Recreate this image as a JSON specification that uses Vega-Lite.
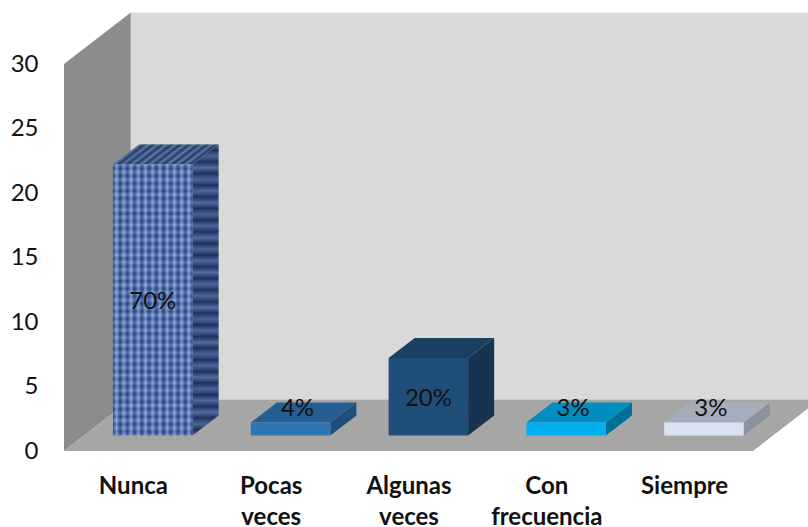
{
  "$schema": "https://vega.github.io/schema/vega-lite/v6.json",
  "autosize": "none",
  "width": 689,
  "height": 387,
  "padding": {"left": 64, "top": 64, "right": 55, "bottom": 76},
  "background": "white",
  "datasets": {
    "caras": [{"prof": 0}, {"prof": 1}],
    "barras": [
      {"categoria": "Nunca", "n": 21, "pct": "70%"},
      {"categoria": "Pocas veces", "n": 1, "pct": "4%"},
      {"categoria": "Algunas veces", "n": 6, "pct": "20%"},
      {"categoria": "Con frecuencia", "n": 1, "pct": "3%"},
      {"categoria": "Siempre", "n": 1, "pct": "3%"}
    ]
  },
  "config": {"view": {"stroke": null}},
  "encoding": {
    "x": {
      "field": "x", "type": "quantitative", "stack": null, "title": null,
      "scale": {"domain": [0, 5], "nice": false, "zero": false},
      "axis": {
        "values": [0.5, 1.5, 2.5, 3.5, 4.5], "grid": false, "domain": false, "ticks": false,
        "labelExpr": "datum.value == 0.5 ? 'Nunca' : datum.value == 1.5 ? ['Pocas', 'veces'] : datum.value == 2.5 ? ['Algunas', 'veces'] : datum.value == 3.5 ? ['Con', 'frecuencia'] : 'Siempre'",
        "labelFont": "Lato", "labelFontSize": 24, "labelFontWeight": "bold", "labelColor": "#111111",
        "labelLineHeight": 31, "labelPadding": 23, "labelBaseline": "top", "labelAngle": 0, "labelOverlap": false, "labelFlush": false
      }
    },
    "y": {
      "field": "y", "type": "quantitative", "stack": null, "title": null,
      "scale": {"domain": [0, 30], "nice": false, "zero": false},
      "axis": {
        "values": [0, 5, 10, 15, 20, 25, 30], "grid": false, "domain": false, "ticks": false,
        "labelFont": "Lato", "labelFontSize": 24, "labelColor": "#111111", "labelPadding": 26
      }
    }
  },
  "layer": [
    {
      "data": {"name": "caras"},
      "transform": [
        {"calculate": "datum.prof * 0.485", "as": "x"},
        {"calculate": "datum.prof * 4", "as": "y"},
        {"calculate": "30 + datum.prof * 4", "as": "ytecho"}
      ],
      "mark": {"type": "area", "color": "#8c8c8c"},
      "encoding": {"y2": {"field": "ytecho"}}
    },
    {
      "data": {"name": "caras"},
      "transform": [
        {"filter": "datum.prof == 1"},
        {"calculate": "0.485", "as": "x"},
        {"calculate": "5.485", "as": "xfin"},
        {"calculate": "4", "as": "y"},
        {"calculate": "34", "as": "ytecho"}
      ],
      "mark": {"type": "rect", "color": "#d9d9d9"},
      "encoding": {"x2": {"field": "xfin"}, "y2": {"field": "ytecho"}}
    },
    {
      "data": {"name": "caras"},
      "transform": [
        {"calculate": "datum.prof * 0.485", "as": "x"},
        {"calculate": "5 + datum.prof * 0.485", "as": "xfin"},
        {"calculate": "datum.prof * 4", "as": "y"}
      ],
      "mark": {"type": "area", "orient": "horizontal", "color": "#a6a6a6"},
      "encoding": {"x2": {"field": "xfin"}}
    },
    {
      "data": {"name": "barras"},
      "transform": [
        {"window": [{"op": "row_number", "as": "fila"}]},
        {"calculate": "[0.3, 0.69]", "as": "prof"},
        {"flatten": ["prof"]},
        {"calculate": "datum.fila - 1 + 0.21 + datum.prof * 0.485", "as": "x"},
        {"calculate": "datum.x + 0.577", "as": "xfin"},
        {"calculate": "datum.n + datum.prof * 4", "as": "y"},
        {"calculate": "datum.prof * 4", "as": "ybase"}
      ],
      "layer": [
        {
          "transform": [{"calculate": "datum.xfin", "as": "x"}],
          "mark": {"type": "area"},
          "encoding": {
            "y2": {"field": "ybase"},
            "color": {"field": "categoria", "type": "nominal", "legend": null,
              "scale": {"domain": ["Nunca", "Pocas veces", "Algunas veces", "Con frecuencia", "Siempre"],
                "range": ["#2b4270", "#1f4e79", "#163450", "#006f97", "#8b929d"]}}
          }
        },
        {
          "transform": [{"filter": "datum.categoria == 'Nunca'"}, {"calculate": "datum.xfin", "as": "x"}],
          "mark": {"type": "area", "color": {"gradient": "linear", "x1": 0, "y1": 0, "x2": 0, "y2": 1, "stops": [
            {"offset": 0, "color": "rgba(140,170,225,0.35)"}, {"offset": 0.02, "color": "rgba(10,25,60,0.4)"},
            {"offset": 0.04, "color": "rgba(140,170,225,0.3)"}, {"offset": 0.06, "color": "rgba(10,25,60,0.35)"},
            {"offset": 0.08, "color": "rgba(140,170,225,0.4)"}, {"offset": 0.1, "color": "rgba(10,25,60,0.4)"},
            {"offset": 0.12, "color": "rgba(140,170,225,0.3)"}, {"offset": 0.14, "color": "rgba(10,25,60,0.45)"},
            {"offset": 0.16, "color": "rgba(140,170,225,0.35)"}, {"offset": 0.18, "color": "rgba(10,25,60,0.35)"},
            {"offset": 0.2, "color": "rgba(140,170,225,0.4)"}, {"offset": 0.22, "color": "rgba(10,25,60,0.4)"},
            {"offset": 0.24, "color": "rgba(140,170,225,0.3)"}, {"offset": 0.26, "color": "rgba(10,25,60,0.45)"},
            {"offset": 0.28, "color": "rgba(140,170,225,0.35)"}, {"offset": 0.3, "color": "rgba(10,25,60,0.35)"},
            {"offset": 0.32, "color": "rgba(140,170,225,0.4)"}, {"offset": 0.34, "color": "rgba(10,25,60,0.4)"},
            {"offset": 0.36, "color": "rgba(140,170,225,0.3)"}, {"offset": 0.38, "color": "rgba(10,25,60,0.45)"},
            {"offset": 0.4, "color": "rgba(140,170,225,0.35)"}, {"offset": 0.42, "color": "rgba(10,25,60,0.35)"},
            {"offset": 0.44, "color": "rgba(140,170,225,0.4)"}, {"offset": 0.46, "color": "rgba(10,25,60,0.4)"},
            {"offset": 0.48, "color": "rgba(140,170,225,0.3)"}, {"offset": 0.5, "color": "rgba(10,25,60,0.45)"},
            {"offset": 0.52, "color": "rgba(140,170,225,0.35)"}, {"offset": 0.54, "color": "rgba(10,25,60,0.35)"},
            {"offset": 0.56, "color": "rgba(140,170,225,0.4)"}, {"offset": 0.58, "color": "rgba(10,25,60,0.4)"},
            {"offset": 0.6, "color": "rgba(140,170,225,0.3)"}, {"offset": 0.62, "color": "rgba(10,25,60,0.45)"},
            {"offset": 0.64, "color": "rgba(140,170,225,0.35)"}, {"offset": 0.66, "color": "rgba(10,25,60,0.35)"},
            {"offset": 0.68, "color": "rgba(140,170,225,0.4)"}, {"offset": 0.7, "color": "rgba(10,25,60,0.4)"},
            {"offset": 0.72, "color": "rgba(140,170,225,0.3)"}, {"offset": 0.74, "color": "rgba(10,25,60,0.45)"},
            {"offset": 0.76, "color": "rgba(140,170,225,0.35)"}, {"offset": 0.78, "color": "rgba(10,25,60,0.35)"},
            {"offset": 0.8, "color": "rgba(140,170,225,0.4)"}, {"offset": 0.82, "color": "rgba(10,25,60,0.4)"},
            {"offset": 0.84, "color": "rgba(140,170,225,0.3)"}, {"offset": 0.86, "color": "rgba(10,25,60,0.45)"},
            {"offset": 0.88, "color": "rgba(140,170,225,0.35)"}, {"offset": 0.9, "color": "rgba(10,25,60,0.35)"},
            {"offset": 0.92, "color": "rgba(140,170,225,0.4)"}, {"offset": 0.94, "color": "rgba(10,25,60,0.4)"},
            {"offset": 0.96, "color": "rgba(140,170,225,0.3)"}, {"offset": 0.98, "color": "rgba(10,25,60,0.45)"},
            {"offset": 1, "color": "rgba(140,170,225,0.35)"}
          ]}},
          "encoding": {"y2": {"field": "ybase"}}
        },
        {
          "mark": {"type": "area", "orient": "horizontal"},
          "encoding": {
            "x2": {"field": "xfin"},
            "color": {"field": "categoria", "type": "nominal", "legend": null,
              "scale": {"domain": ["Nunca", "Pocas veces", "Algunas veces", "Con frecuencia", "Siempre"],
                "range": ["#34507f", "#255e92", "#193f61", "#008dc0", "#a6adba"]}}
          }
        },
        {
          "transform": [{"filter": "datum.categoria == 'Nunca'"}],
          "mark": {"type": "area", "orient": "horizontal", "color": {"gradient": "linear", "x1": 0, "y1": 0, "x2": 1, "y2": 0.25, "stops": [
            {"offset": 0, "color": "rgba(150,180,235,0.4)"}, {"offset": 0.04, "color": "rgba(10,25,60,0.4)"},
            {"offset": 0.08, "color": "rgba(150,180,235,0.35)"}, {"offset": 0.12, "color": "rgba(10,25,60,0.45)"},
            {"offset": 0.16, "color": "rgba(150,180,235,0.4)"}, {"offset": 0.2, "color": "rgba(10,25,60,0.35)"},
            {"offset": 0.24, "color": "rgba(150,180,235,0.45)"}, {"offset": 0.28, "color": "rgba(10,25,60,0.4)"},
            {"offset": 0.32, "color": "rgba(150,180,235,0.35)"}, {"offset": 0.36, "color": "rgba(10,25,60,0.45)"},
            {"offset": 0.4, "color": "rgba(150,180,235,0.4)"}, {"offset": 0.44, "color": "rgba(10,25,60,0.35)"},
            {"offset": 0.48, "color": "rgba(150,180,235,0.45)"}, {"offset": 0.52, "color": "rgba(10,25,60,0.4)"},
            {"offset": 0.56, "color": "rgba(150,180,235,0.35)"}, {"offset": 0.6, "color": "rgba(10,25,60,0.45)"},
            {"offset": 0.64, "color": "rgba(150,180,235,0.4)"}, {"offset": 0.68, "color": "rgba(10,25,60,0.35)"},
            {"offset": 0.72, "color": "rgba(150,180,235,0.45)"}, {"offset": 0.76, "color": "rgba(10,25,60,0.4)"},
            {"offset": 0.8, "color": "rgba(150,180,235,0.35)"}, {"offset": 0.84, "color": "rgba(10,25,60,0.45)"},
            {"offset": 0.88, "color": "rgba(150,180,235,0.4)"}, {"offset": 0.92, "color": "rgba(10,25,60,0.35)"},
            {"offset": 0.96, "color": "rgba(150,180,235,0.45)"}, {"offset": 1, "color": "rgba(10,25,60,0.4)"}
          ]}},
          "encoding": {"x2": {"field": "xfin"}}
        },
        {
          "transform": [{"filter": "datum.prof == 0.3"}],
          "mark": {"type": "rect"},
          "encoding": {
            "x2": {"field": "xfin"},
            "y2": {"field": "ybase"},
            "color": {"field": "categoria", "type": "nominal", "legend": null,
              "scale": {"domain": ["Nunca", "Pocas veces", "Algunas veces", "Con frecuencia", "Siempre"],
                "range": ["#4a6cb0", "#2e75b6", "#1f4e79", "#00b0f0", "#dae3f3"]}}
          }
        },
        {
          "transform": [{"filter": "datum.prof == 0.3 && datum.categoria == 'Nunca'"}],
          "mark": {"type": "rect", "color": {"gradient": "linear", "x1": 0, "y1": 0, "x2": 0, "y2": 1, "stops": [
            {"offset": 0, "color": "rgba(175,205,255,0.5)"}, {"offset": 0.0139, "color": "rgba(15,35,85,0.4)"},
            {"offset": 0.0278, "color": "rgba(175,205,255,0.45)"}, {"offset": 0.0417, "color": "rgba(15,35,85,0.45)"},
            {"offset": 0.0556, "color": "rgba(175,205,255,0.55)"}, {"offset": 0.0694, "color": "rgba(15,35,85,0.35)"},
            {"offset": 0.0833, "color": "rgba(175,205,255,0.4)"}, {"offset": 0.0972, "color": "rgba(15,35,85,0.45)"},
            {"offset": 0.1111, "color": "rgba(175,205,255,0.55)"}, {"offset": 0.125, "color": "rgba(15,35,85,0.4)"},
            {"offset": 0.1389, "color": "rgba(175,205,255,0.45)"}, {"offset": 0.1528, "color": "rgba(15,35,85,0.35)"},
            {"offset": 0.1667, "color": "rgba(175,205,255,0.5)"}, {"offset": 0.1806, "color": "rgba(15,35,85,0.45)"},
            {"offset": 0.1944, "color": "rgba(175,205,255,0.4)"}, {"offset": 0.2083, "color": "rgba(15,35,85,0.4)"},
            {"offset": 0.2222, "color": "rgba(175,205,255,0.55)"}, {"offset": 0.2361, "color": "rgba(15,35,85,0.35)"},
            {"offset": 0.25, "color": "rgba(175,205,255,0.45)"}, {"offset": 0.2639, "color": "rgba(15,35,85,0.45)"},
            {"offset": 0.2778, "color": "rgba(175,205,255,0.5)"}, {"offset": 0.2917, "color": "rgba(15,35,85,0.4)"},
            {"offset": 0.3056, "color": "rgba(175,205,255,0.4)"}, {"offset": 0.3194, "color": "rgba(15,35,85,0.35)"},
            {"offset": 0.3333, "color": "rgba(175,205,255,0.55)"}, {"offset": 0.3472, "color": "rgba(15,35,85,0.45)"},
            {"offset": 0.3611, "color": "rgba(175,205,255,0.45)"}, {"offset": 0.375, "color": "rgba(15,35,85,0.4)"},
            {"offset": 0.3889, "color": "rgba(175,205,255,0.5)"}, {"offset": 0.4028, "color": "rgba(15,35,85,0.35)"},
            {"offset": 0.4167, "color": "rgba(175,205,255,0.4)"}, {"offset": 0.4306, "color": "rgba(15,35,85,0.45)"},
            {"offset": 0.4444, "color": "rgba(175,205,255,0.55)"}, {"offset": 0.4583, "color": "rgba(15,35,85,0.4)"},
            {"offset": 0.4722, "color": "rgba(175,205,255,0.45)"}, {"offset": 0.4861, "color": "rgba(15,35,85,0.35)"},
            {"offset": 0.5, "color": "rgba(175,205,255,0.5)"}, {"offset": 0.5139, "color": "rgba(15,35,85,0.45)"},
            {"offset": 0.5278, "color": "rgba(175,205,255,0.4)"}, {"offset": 0.5417, "color": "rgba(15,35,85,0.4)"},
            {"offset": 0.5556, "color": "rgba(175,205,255,0.55)"}, {"offset": 0.5694, "color": "rgba(15,35,85,0.35)"},
            {"offset": 0.5833, "color": "rgba(175,205,255,0.45)"}, {"offset": 0.5972, "color": "rgba(15,35,85,0.45)"},
            {"offset": 0.6111, "color": "rgba(175,205,255,0.5)"}, {"offset": 0.625, "color": "rgba(15,35,85,0.4)"},
            {"offset": 0.6389, "color": "rgba(175,205,255,0.4)"}, {"offset": 0.6528, "color": "rgba(15,35,85,0.35)"},
            {"offset": 0.6667, "color": "rgba(175,205,255,0.55)"}, {"offset": 0.6806, "color": "rgba(15,35,85,0.45)"},
            {"offset": 0.6944, "color": "rgba(175,205,255,0.45)"}, {"offset": 0.7083, "color": "rgba(15,35,85,0.4)"},
            {"offset": 0.7222, "color": "rgba(175,205,255,0.5)"}, {"offset": 0.7361, "color": "rgba(15,35,85,0.35)"},
            {"offset": 0.75, "color": "rgba(175,205,255,0.4)"}, {"offset": 0.7639, "color": "rgba(15,35,85,0.45)"},
            {"offset": 0.7778, "color": "rgba(175,205,255,0.55)"}, {"offset": 0.7917, "color": "rgba(15,35,85,0.4)"},
            {"offset": 0.8056, "color": "rgba(175,205,255,0.45)"}, {"offset": 0.8194, "color": "rgba(15,35,85,0.35)"},
            {"offset": 0.8333, "color": "rgba(175,205,255,0.5)"}, {"offset": 0.8472, "color": "rgba(15,35,85,0.45)"},
            {"offset": 0.8611, "color": "rgba(175,205,255,0.4)"}, {"offset": 0.875, "color": "rgba(15,35,85,0.4)"},
            {"offset": 0.8889, "color": "rgba(175,205,255,0.55)"}, {"offset": 0.9028, "color": "rgba(15,35,85,0.35)"},
            {"offset": 0.9167, "color": "rgba(175,205,255,0.45)"}, {"offset": 0.9306, "color": "rgba(15,35,85,0.45)"},
            {"offset": 0.9444, "color": "rgba(175,205,255,0.5)"}, {"offset": 0.9583, "color": "rgba(15,35,85,0.4)"},
            {"offset": 0.9722, "color": "rgba(175,205,255,0.4)"}, {"offset": 0.9861, "color": "rgba(15,35,85,0.35)"},
            {"offset": 1, "color": "rgba(175,205,255,0.5)"}
          ]}},
          "encoding": {"x2": {"field": "xfin"}, "y2": {"field": "ybase"}}
        },
        {
          "transform": [{"filter": "datum.prof == 0.3 && datum.categoria == 'Nunca'"}],
          "mark": {"type": "rect", "color": {"gradient": "linear", "x1": 0, "y1": 0, "x2": 1, "y2": 0, "stops": [
            {"offset": 0, "color": "rgba(15,35,85,0.4)"}, {"offset": 0.0455, "color": "rgba(175,205,255,0.5)"},
            {"offset": 0.0909, "color": "rgba(15,35,85,0.45)"}, {"offset": 0.1364, "color": "rgba(175,205,255,0.4)"},
            {"offset": 0.1818, "color": "rgba(15,35,85,0.35)"}, {"offset": 0.2273, "color": "rgba(175,205,255,0.55)"},
            {"offset": 0.2727, "color": "rgba(15,35,85,0.4)"}, {"offset": 0.3182, "color": "rgba(175,205,255,0.45)"},
            {"offset": 0.3636, "color": "rgba(15,35,85,0.45)"}, {"offset": 0.4091, "color": "rgba(175,205,255,0.5)"},
            {"offset": 0.4545, "color": "rgba(15,35,85,0.35)"}, {"offset": 0.5, "color": "rgba(175,205,255,0.4)"},
            {"offset": 0.5455, "color": "rgba(15,35,85,0.4)"}, {"offset": 0.5909, "color": "rgba(175,205,255,0.55)"},
            {"offset": 0.6364, "color": "rgba(15,35,85,0.45)"}, {"offset": 0.6818, "color": "rgba(175,205,255,0.45)"},
            {"offset": 0.7273, "color": "rgba(15,35,85,0.35)"}, {"offset": 0.7727, "color": "rgba(175,205,255,0.5)"},
            {"offset": 0.8182, "color": "rgba(15,35,85,0.4)"}, {"offset": 0.8636, "color": "rgba(175,205,255,0.45)"},
            {"offset": 0.9091, "color": "rgba(15,35,85,0.45)"}, {"offset": 0.9545, "color": "rgba(175,205,255,0.5)"},
            {"offset": 1, "color": "rgba(15,35,85,0.4)"}
          ]}},
          "encoding": {"x2": {"field": "xfin"}, "y2": {"field": "ybase"}}
        },
        {
          "transform": [
            {"filter": "datum.prof == 0.3"},
            {"calculate": "datum.x + 0.289 + (datum.n < 5 ? 0.05 : 0)", "as": "x"},
            {"calculate": "datum.n < 5 ? 3.4 : 1.2 + datum.n / 2", "as": "y"}
          ],
          "mark": {"type": "text", "font": "Lato", "fontSize": 24, "color": "#111111", "baseline": "middle", "yOffset": 2},
          "encoding": {"text": {"field": "pct"}}
        }
      ],
      "resolve": {"scale": {"color": "independent"}}
    }
  ],
  "resolve": {"scale": {"color": "independent"}}
}
